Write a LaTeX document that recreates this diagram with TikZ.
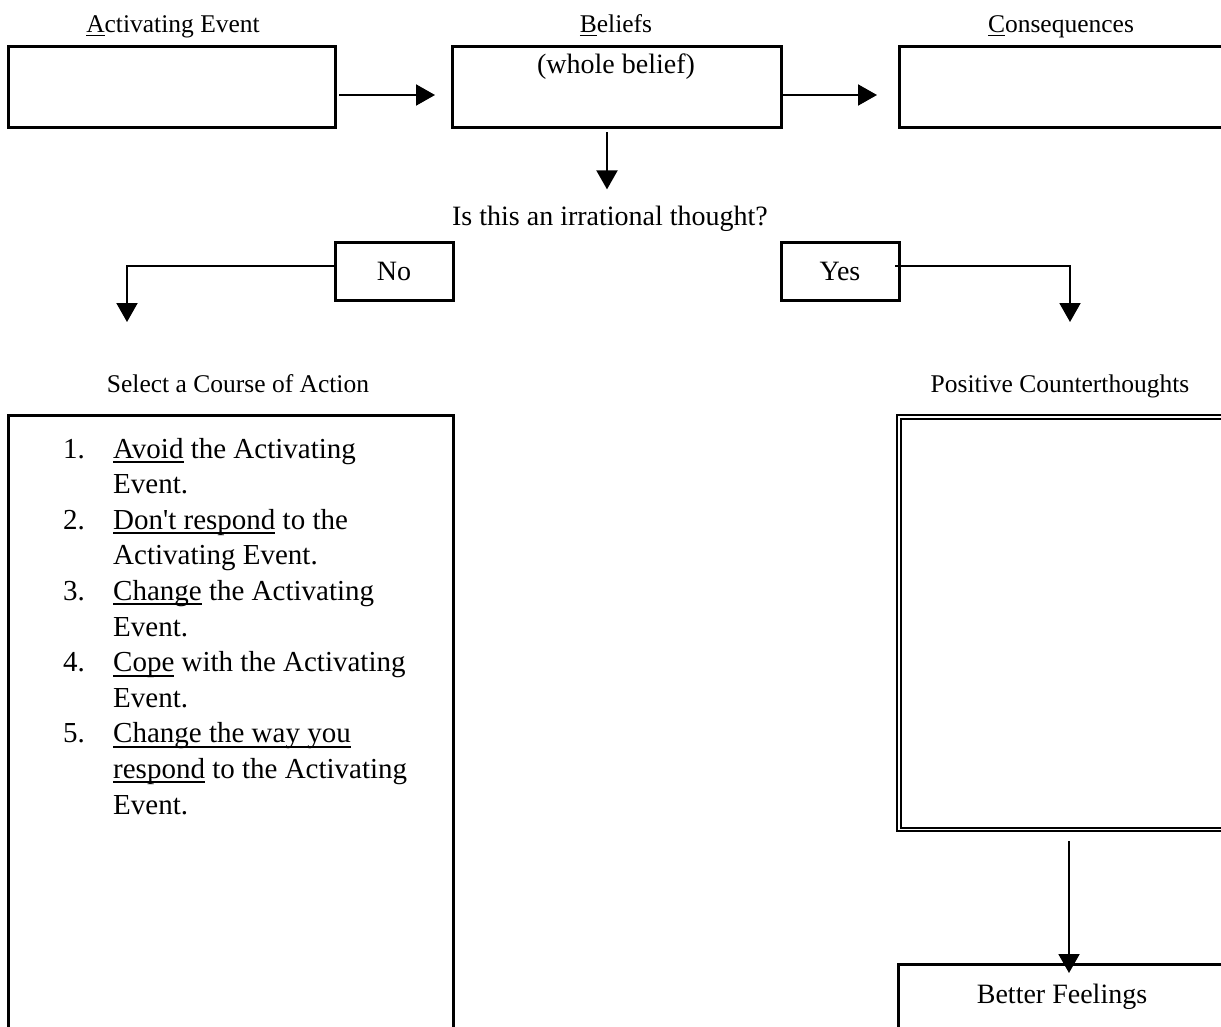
\documentclass[tikz,border=0pt]{standalone}
\usepackage{fontspec}
\setmainfont{Liberation Serif}[Ligatures=TeXOff]
\usetikzlibrary{arrows.meta,positioning}
\newcommand{\ulw}[1]{\setbox0\hbox{#1}\rlap{\rule[-0.17em]{\wd0}{0.07em}}\box0\relax}

\begin{document}
\begin{tikzpicture}[x=1pt,y=-1pt,
  box/.style={draw,line width=3pt,inner sep=0pt,outer sep=0pt},
  arr/.style={-{Triangle[length=19pt,width=21pt]},line width=2pt},
  big/.style={font=\fontsize{28}{35.6}\selectfont},
  lbl/.style={font=\fontsize{25.5}{30}\selectfont,anchor=base,inner sep=0pt}]
  \useasboundingbox (0,0) rectangle (1221,1026);
  \clip (0,0) rectangle (1221,1026);

  % A -> B -> C row
  \node[lbl] (lblA) at (173,32) {\ulw{A}ctivating Event};
  \node[lbl] (lblB) at (616,32) {\ulw{B}eliefs};
  \node[lbl] (lblC) at (1061,32) {\ulw{C}onsequences};
  \node[box,minimum width=327pt,minimum height=81pt] (actA) at (171.5,86.5) {};
  \node[box,minimum width=329pt,minimum height=81pt] (belB) at (616.5,86.5) {};
  \node[big,anchor=base,inner sep=0pt] (belTxt) at (616,73) {(whole belief)};
  \node[box,minimum width=327pt,minimum height=81pt] (conC) at (1062.5,86.5) {};
  \draw[arr,shorten <=4pt,shorten >=17pt] ([yshift=-8.5pt]actA.east) -- ([yshift=-8.5pt]belB.west);
  \draw[arr,shorten <=1pt,shorten >=22pt] ([yshift=-8.5pt]belB.east) -- ([yshift=-8.5pt]conC.west);

  % the question
  \node[big,anchor=base,inner sep=0pt] (qIrr) at (610,225) {Is this an irrational thought?};
  \draw[arr,shorten <=5pt,shorten >=16pt] ([xshift=-9.5pt]belB.south) -- ([xshift=-9.5pt]belB.south |- qIrr.north);

  % No / Yes
  \node[box,big,minimum width=118pt,minimum height=58pt] (noBox) at (394,271) {No};
  \node[box,big,minimum width=118pt,minimum height=58pt] (yesBox) at (840,271) {Yes};
  \coordinate (noEnd) at (127,322);
  \coordinate (yesEnd) at (1070,322);
  \draw[arr] ([yshift=5pt]noBox.west) -| (noEnd);
  \draw[arr] ([yshift=5pt,xshift=-4pt]yesBox.east) -| (yesEnd);

  % left: course of action
  \node[lbl] (selLbl) at (238,392) {Select a Course of Action};
  \node[box,minimum width=445pt,minimum height=631pt] (actBox) at (230.5,730.5) {};
  \node[font=\fontsize{29}{35.6}\selectfont,anchor=base west,inner sep=0pt] (actList) at (63,458) {%
    \begin{tabular}[t]{@{}p{50pt}@{}l@{}}
      1. & \ulw{Avoid} the Activating\\
         & Event.\\
      2. & \ulw{Don't respond} to the\\
         & Activating Event.\\
      3. & \ulw{Change} the Activating\\
         & Event.\\
      4. & \ulw{Cope} with the Activating\\
         & Event.\\
      5. & \ulw{Change the way you}\\
         & \ulw{respond} to the Activating\\
         & Event.
    \end{tabular}};

  % right: counterthoughts
  \node[lbl] (posLbl) at (1060,392) {Positive Counterthoughts};
  \node[draw,line width=2pt,double,double distance=1.5pt,inner sep=0pt,outer sep=0pt,
        minimum width=331pt,minimum height=412.5pt] (posBox) at (1064.5,623.25) {};
  \node[box,big,minimum width=328pt,minimum height=66pt] (betBox) at (1062,997) {Better Feelings};
  \draw[arr,shorten <=11.5pt,shorten >=-9pt] ([xshift=4.5pt]posBox.south) -- ([xshift=4.5pt]posBox.south |- betBox.north);
\end{tikzpicture}
\end{document}
